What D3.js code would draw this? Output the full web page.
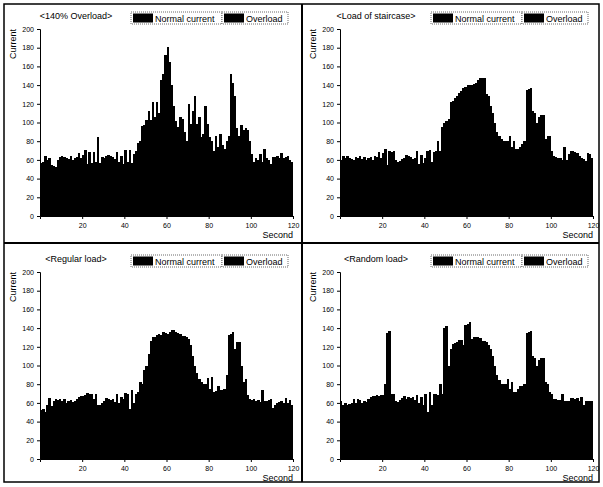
<!DOCTYPE html>
<html>
<head>
<meta charset="utf-8">
<script src="https://cdn.jsdelivr.net/npm/d3@7"></script>
<style>
  body { margin: 0; background: #fff; }
  svg { font-family: "Liberation Sans", Arial, sans-serif; }
</style>
</head>
<body>
<svg id="chart" width="603" height="487"></svg>
<script>
var svg = d3.select("#chart");

// tick labels
var xTicks = [20, 40, 60, 80, 100, 120];
var yTicks = [0, 20, 40, 60, 80, 100, 120, 140, 160, 180, 200];

var titles = ["<140% Overload>", "<Load of staircase>", "<Regular load>", "<Random load>"];
var legendNames = ["Normal current", "Overload"];
var legendColors = ["#000", "#000"];
var ratedCurrent = 100; // above this counts as overload

// current per second, 1..120
var overload140 = [
  57, 58, 64, 60, 62, 55, 53, 52, 60, 63,
  64, 63, 62, 61, 64, 60, 62, 63, 67, 62,
  65, 71, 56, 68, 57, 68, 58, 84, 57, 63,
  62, 64, 65, 64, 63, 61, 68, 58, 64, 56,
  71, 58, 71, 57, 66, 70, 78, 80, 96, 97,
  103, 112, 103, 122, 106, 122, 110, 145, 152, 172,
  181, 165, 140, 118, 102, 95, 106, 104, 90, 80,
  120, 98, 112, 128, 98, 106, 84, 88, 118, 98,
  84, 80, 70, 86, 74, 88, 76, 72, 80, 86,
  152, 142, 128, 94, 86, 97, 92, 94, 92, 80,
  66, 58, 62, 60, 66, 58, 72, 62, 60, 56,
  63, 63, 64, 62, 67, 62, 63, 64, 60, 58
];
var staircase = [
  60, 64, 62, 64, 62, 61, 60, 63, 62, 64,
  61, 63, 60, 62, 63, 60, 64, 63, 68, 62,
  67, 72, 55, 70, 68, 69, 60, 58, 59, 61,
  62, 65, 64, 63, 61, 62, 69, 56, 65, 57,
  62, 70, 71, 58, 68, 70, 80, 70, 95, 100,
  102, 104, 122, 123, 126, 128, 132, 134, 137, 138,
  140, 140, 140, 141, 142, 145, 148, 148, 148, 130,
  128, 118, 110, 100, 90, 86, 82, 80, 80, 80,
  86, 74, 80, 72, 72, 74, 77, 80, 135, 136,
  137, 112, 110, 100, 106, 108, 108, 82, 86, 86,
  70, 64, 63, 62, 62, 60, 74, 60, 66, 70,
  70, 68, 67, 64, 62, 61, 59, 67, 66, 62
];
var regular = [
  52, 54, 50, 58, 65, 57, 62, 64, 63, 64,
  62, 64, 60, 62, 63, 61, 62, 64, 66, 67,
  67, 68, 71, 70, 69, 64, 70, 58, 58, 60,
  62, 65, 64, 63, 64, 61, 69, 60, 66, 64,
  71, 70, 53, 74, 60, 70, 72, 82, 80, 95,
  100, 112, 126, 130, 131, 133, 134, 133, 136, 135,
  134, 136, 138, 138, 136, 135, 134, 132, 132, 130,
  128, 122, 110, 100, 92, 86, 82, 80, 80, 87,
  75, 88, 72, 73, 78, 74, 74, 75, 90, 133,
  134, 136, 118, 125, 125, 100, 82, 86, 68, 64,
  63, 64, 62, 63, 61, 74, 62, 62, 63, 64,
  55, 58, 60, 61, 62, 60, 65, 60, 63, 58
];
var random = [
  62, 58, 60, 58, 59, 60, 64, 60, 64, 63,
  60, 62, 61, 64, 66, 67, 67, 68, 67, 68,
  68, 80, 135, 137, 70, 70, 62, 61, 63, 65,
  67, 64, 66, 65, 66, 63, 68, 60, 66, 58,
  70, 50, 72, 58, 70, 70, 68, 80, 70, 140,
  142, 100, 118, 123, 124, 125, 127, 127, 122, 143,
  144, 147, 128, 130, 130, 130, 129, 126, 126, 125,
  122, 118, 110, 100, 90, 84, 80, 80, 80, 86,
  75, 82, 72, 72, 75, 78, 78, 80, 135, 136,
  137, 110, 108, 100, 106, 108, 108, 82, 80, 72,
  70, 64, 64, 63, 63, 70, 62, 62, 62, 65,
  65, 64, 65, 62, 66, 58, 62, 62, 62, 62
];

var series = [overload140, staircase, regular, random];

// panel plot areas: left of x axis and top (value 200)
var cols = [40, 340];
var rows = [29, 272];
var plotW = 253, plotH = 187;

// frame and dividers
svg.append("rect").attr("x", 4).attr("y", 4).attr("width", 595).attr("height", 478)
  .attr("fill", "none").attr("stroke", "#000").attr("stroke-width", 1.5);
svg.append("line").attr("x1", 302).attr("x2", 302).attr("y1", 4).attr("y2", 482)
  .attr("stroke", "#000").attr("stroke-width", 2);
svg.append("line").attr("x1", 4).attr("x2", 599).attr("y1", 243).attr("y2", 243)
  .attr("stroke", "#000").attr("stroke-width", 2);

series.forEach(function(values, i) {
  var left = cols[i % 2], top = rows[Math.floor(i / 2)];
  var g = svg.append("g").attr("transform", "translate(" + left + "," + top + ")");

  var x = d3.scaleLinear().domain([0, 120]).range([0, plotW]);
  var y = d3.scaleLinear().domain([0, 200]).range([plotH, 0]);

  g.selectAll("rect.bar").data(values).enter()
    .append("rect")
    .attr("class", "bar")
    .attr("x", function(d, j) { return x(j); })
    .attr("width", x(1) - x(0) + 0.3)
    .attr("y", function(d) { return y(d); })
    .attr("height", function(d) { return y(0) - y(d); })
    .attr("fill", function(d) { return d > ratedCurrent ? legendColors[1] : legendColors[0]; })
    .attr("shape-rendering", "crispEdges");

  var xAxis = g.append("g").attr("transform", "translate(0," + plotH + ")")
    .call(d3.axisBottom(x).tickValues(xTicks).tickSize(3).tickPadding(4));
  var yAxis = g.append("g")
    .call(d3.axisLeft(y).tickValues(yTicks).tickSize(3).tickPadding(3));
  [xAxis, yAxis].forEach(function(a) {
    a.select(".domain").attr("stroke", "#000");
    a.selectAll("text").attr("font-size", 7).attr("font-family", "Liberation Sans, Arial, sans-serif");
  });

  g.append("text").attr("x", plotW).attr("y", plotH + 22)
    .attr("text-anchor", "end").attr("font-size", 9).text("Second");
  g.append("text").attr("transform", "translate(-24,0) rotate(-90)")
    .attr("text-anchor", "end").attr("font-size", 9).text("Current");

  g.append("text").attr("x", 36).attr("y", -10)
    .attr("text-anchor", "middle").attr("font-size", 9).text(titles[i]);

  // legend
  var lx = 91, ly = -17, boxW = [91, 66];
  legendNames.forEach(function(name, k) {
    var bx = lx + (k === 0 ? 0 : boxW[0]);
    g.append("rect").attr("x", bx).attr("y", ly).attr("width", boxW[k]).attr("height", 12)
      .attr("fill", "#fff").attr("stroke", "#444").attr("stroke-width", 0.8)
      .attr("stroke-dasharray", "1,1");
    g.append("rect").attr("x", bx + 2).attr("y", ly + 1.5).attr("width", 20).attr("height", 9)
      .attr("fill", legendColors[k]);
    g.append("text").attr("x", bx + 24).attr("y", ly + 9.5)
      .attr("font-size", 9).text(name);
  });
});
</script>
</body>
</html>
